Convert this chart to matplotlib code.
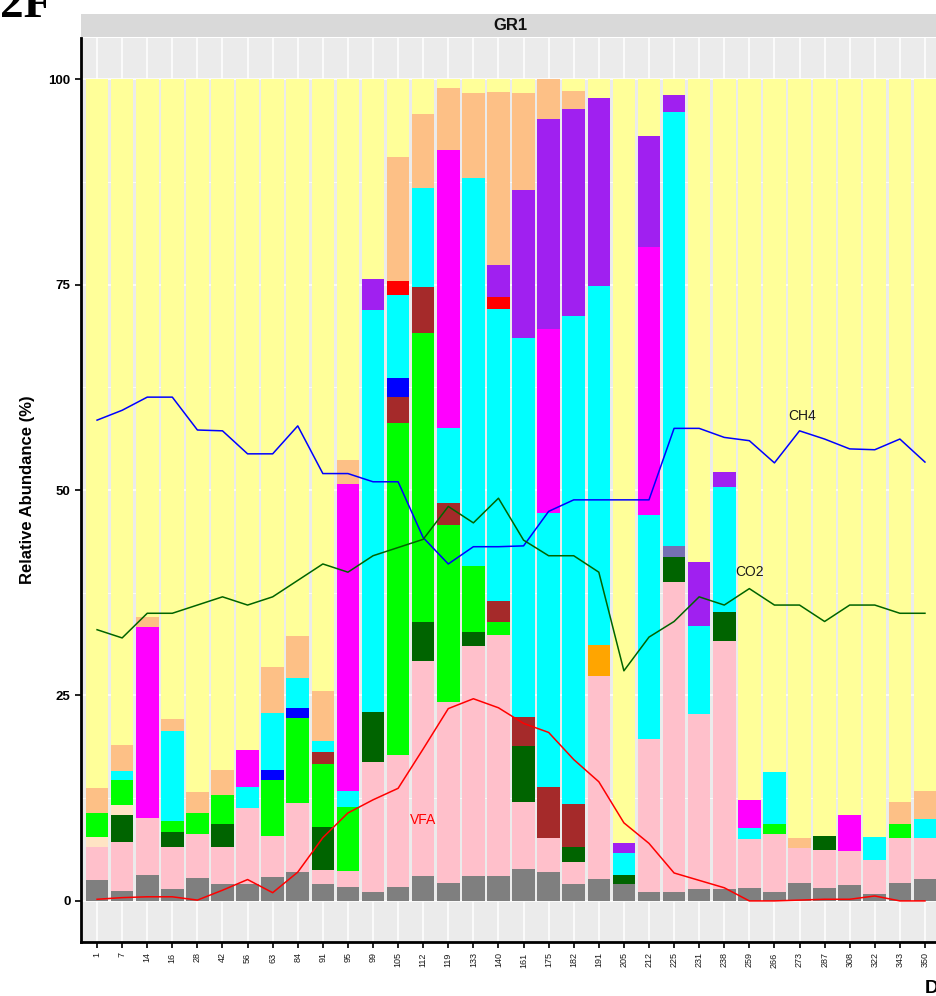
import numpy as np
import matplotlib.pyplot as plt
from matplotlib.ticker import MultipleLocator

plt.rcParams['font.family'] = ['Liberation Sans', 'DejaVu Sans']

days = ['1', '7', '14', '16', '28', '42', '56', '63', '84', '91', '95', '99',
        '105', '112', '119', '133', '140', '161', '175', '182', '191', '205',
        '212', '225', '231', '238', '259', '266', '273', '287', '308', '322',
        '343', '350']

# relative abundance (%) of each stacked group, bottom to top
grey      = [2.5, 1.2, 3.2, 1.5, 2.8, 2.1, 2.1, 2.9, 3.5, 2.0, 1.7, 1.1, 1.7, 3.0, 2.2, 3.0, 3.0,
             3.9, 3.5, 2.0, 2.7, 2.1, 1.1, 1.1, 1.4, 1.5, 1.6, 1.1, 2.2, 1.6, 1.9, 0.9, 2.2, 2.7]
pink      = [4.1, 6.0, 6.9, 5.1, 5.4, 4.5, 9.2, 5.0, 8.4, 1.8, 2.0, 15.8, 16.1, 26.2, 22.0, 28.0, 29.4,
             8.1, 4.1, 2.7, 24.7, 0.0, 18.6, 37.7, 21.4, 30.1, 5.9, 7.1, 4.2, 4.6, 4.2, 4.1, 5.4, 4.9]
darkgreen = [0, 3.3, 0, 1.8, 0, 2.8, 0, 0, 0, 5.2, 0, 6.1, 0, 4.7, 0, 1.7, 0,
             6.9, 0, 1.9, 0, 1.1, 0, 3.0, 0, 3.6, 0, 0, 0, 1.7, 0, 0, 0, 0]
bisque    = [1.2, 1.2, 0, 0, 0, 0, 0, 0, 0, 0, 0, 0, 0, 0, 0, 0, 0,
             0, 0, 0, 0, 0, 0, 0, 0, 0, 0, 0, 0, 0, 0, 0, 0, 0]
green     = [2.9, 3.0, 0, 1.3, 2.5, 3.5, 0, 6.8, 10.4, 7.7, 7.7, 0, 40.4, 35.2, 21.5, 8.1, 1.5,
             0, 0, 0, 0, 0, 0, 0, 0, 0, 0, 1.1, 0, 0, 0, 0, 1.7, 0]
brown     = [0, 0, 0, 0, 0, 0, 0, 0, 0, 1.4, 0, 0, 3.1, 5.6, 2.7, 0, 2.6,
             3.5, 6.2, 5.2, 0, 0, 0, 0, 0, 0, 0, 0, 0, 0, 0, 0, 0, 0]
orange    = [0, 0, 0, 0, 0, 0, 0, 0, 0, 0, 0, 0, 0, 0, 0, 0, 0,
             0, 0, 0, 3.7, 0, 0, 0, 0, 0, 0, 0, 0, 0, 0, 0, 0, 0]
blue      = [0, 0, 0, 0, 0, 0, 0, 1.2, 1.2, 0, 0, 0, 2.3, 0, 0, 0, 0,
             0, 0, 0, 0, 0, 0, 0, 0, 0, 0, 0, 0, 0, 0, 0, 0, 0]
slate     = [0, 0, 0, 0, 0, 0, 0, 0, 0, 0, 0, 0, 0, 0, 0, 0, 0,
             0, 0, 0, 0, 0, 0, 1.4, 0, 0, 0, 0, 0, 0, 0, 0, 0, 0]
cyan      = [0, 1.1, 0, 11.0, 0, 0, 2.6, 7.0, 3.6, 1.4, 2.0, 48.9, 10.1, 12.0, 9.1, 47.2, 35.5,
             46.1, 33.4, 59.4, 43.7, 2.6, 27.3, 52.8, 10.7, 15.2, 1.4, 6.4, 0, 0, 0, 2.8, 0, 2.4]
red       = [0, 0, 0, 0, 0, 0, 0, 0, 0, 0, 0, 0, 1.7, 0, 0, 0, 1.5,
             0, 0, 0, 0, 0, 0, 0, 0, 0, 0, 0, 0, 0, 0, 0, 0, 0]
magenta   = [0, 0, 23.2, 0, 0, 0, 4.5, 0, 0, 0, 37.3, 0, 0, 0, 33.9, 0, 0,
             0, 22.4, 0, 0, 0, 32.6, 0, 0, 0, 3.4, 0, 0, 0, 4.4, 0, 0, 0]
purple    = [0, 0, 0, 0, 0, 0, 0, 0, 0, 0, 0, 3.8, 0, 0, 0, 0, 3.9,
             18.0, 25.5, 25.2, 22.9, 1.3, 13.5, 2.1, 7.7, 1.8, 0, 0, 0, 0, 0, 0, 0, 0]
peach     = [3.0, 3.2, 1.2, 1.4, 2.6, 3.0, 0, 5.6, 5.1, 6.1, 3.0, 0, 15.1, 9.0, 7.5, 10.3, 21.0,
             11.8, 4.9, 2.1, 0, 0, 0, 0, 0, 0, 0, 0, 1.2, 0, 0, 0, 2.7, 3.4]

# process measurements drawn as lines
ch4 = [58.5, 59.7, 61.3, 61.3, 57.3, 57.2, 54.4, 54.4, 57.8, 52.0, 52.0, 51.0, 51.0, 44.2, 41.0, 43.1, 43.1,
       43.2, 47.4, 48.8, 48.8, 48.8, 48.8, 57.5, 57.5, 56.4, 56.0, 53.3, 57.2, 56.2, 55.0, 54.9, 56.2, 53.4]
co2 = [33.0, 32.0, 35.0, 35.0, 36.0, 37.0, 36.0, 37.0, 39.0, 41.0, 40.0, 42.0, 43.0, 44.0, 48.0, 46.0, 49.0,
       43.9, 42.0, 42.0, 40.0, 28.0, 32.1, 34.0, 37.0, 36.0, 38.0, 36.0, 36.0, 34.0, 36.0, 36.0, 35.0, 35.0]
vfa = [0.2, 0.4, 0.5, 0.5, 0.1, 1.3, 2.6, 1.0, 3.5, 7.7, 10.7, 12.3, 13.7, 18.5, 23.4, 24.6, 23.5,
       21.6, 20.5, 17.2, 14.5, 9.5, 7.0, 3.4, 2.5, 1.6, 0.0, 0.0, 0.1, 0.2, 0.2, 0.6, 0.0, 0.0]

layers = [
    (grey, '#7F7F7F'), (pink, '#FFC0CB'), (darkgreen, '#006400'), (bisque, '#FFE4C4'),
    (green, '#00FF00'), (brown, '#A52A2A'), (orange, '#FFA500'), (blue, '#0000FF'),
    (slate, '#7570B3'), (cyan, '#00FFFF'), (red, '#FF0000'), (magenta, '#FF00FF'),
    (purple, '#A020F0'), (peach, '#FDC086'),
]

x = np.arange(len(days))

fig = plt.figure(figsize=(9.37, 9.96), dpi=100)
ax = fig.add_axes([81 / 937, 54 / 996, 856 / 937, 904 / 996])
ax.set_facecolor('#EBEBEB')

bottom = np.zeros(len(days))
for vals, col in layers:
    vals = np.array(vals, dtype=float)
    ax.bar(x, vals, width=0.9, bottom=bottom, color=col, linewidth=0, zorder=2)
    bottom += vals
ax.bar(x, 100 - bottom, width=0.9, bottom=bottom, color='#FFFF99', linewidth=0, zorder=2)

ax.plot(x, ch4, color='#0000FF', lw=1.1, zorder=3)
ax.plot(x, co2, color='#006400', lw=1.1, zorder=3)
ax.plot(x, vfa, color='#FF0000', lw=1.1, zorder=3)
ax.text(28.1, 59.0, 'CH4', fontsize=10, color='#1A1A1A', ha='center', va='center', zorder=4)
ax.text(26.0, 40.0, 'CO2', fontsize=10, color='#1A1A1A', ha='center', va='center', zorder=4)
ax.text(13.0, 9.9, 'VFA', fontsize=10, color='#FF0000', ha='center', va='center', zorder=4)

ax.set_xlim(-0.64, 33.48)
ax.set_ylim(-5, 105)
ax.set_xticks(x)
ax.set_xticklabels(days, rotation=90, fontsize=6.5, color='#1A1A1A', va='top')
ax.set_yticks([0, 25, 50, 75, 100])
ax.set_yticklabels(['0', '25', '50', '75', '100'], fontsize=9.5, fontweight='bold')
ax.yaxis.set_minor_locator(MultipleLocator(12.5))
ax.grid(True, which='major', color='white', lw=1.1, zorder=0)
ax.grid(True, which='minor', axis='y', color='white', lw=0.55, zorder=0)
ax.set_axisbelow(True)
ax.tick_params(axis='both', which='major', length=4.5, width=1.4, color='#222222')
ax.tick_params(axis='y', which='minor', length=0)
ax.tick_params(axis='y', pad=3)
ax.tick_params(axis='x', pad=3)
for side in ('top', 'right'):
    ax.spines[side].set_visible(False)
for side in ('left', 'bottom'):
    ax.spines[side].set_linewidth(2.0)
    ax.spines[side].set_color('black')
ax.set_ylabel('Relative Abundance (%)', fontsize=12, fontweight='bold', labelpad=10)

# facet strip
strip = fig.add_axes([81 / 937, 959 / 996, 856 / 937, 23 / 996])
strip.set_facecolor('#D9D9D9')
strip.set_xticks([])
strip.set_yticks([])
for s in strip.spines.values():
    s.set_visible(False)
strip.text((510 - 81) / 856, 0.5, 'GR1', fontsize=12, fontweight='bold',
           ha='center', va='center', color='#111111', transform=strip.transAxes)

fig.text(0.0, 1 - 17 / 996, '2F', fontsize=34, fontweight='bold',
         family='Liberation Serif', ha='left', va='baseline')
fig.text(925 / 937, 3 / 996, 'Day', fontsize=14, fontweight='bold',
         ha='left', va='baseline')

fig.savefig('out.png', dpi=100)
